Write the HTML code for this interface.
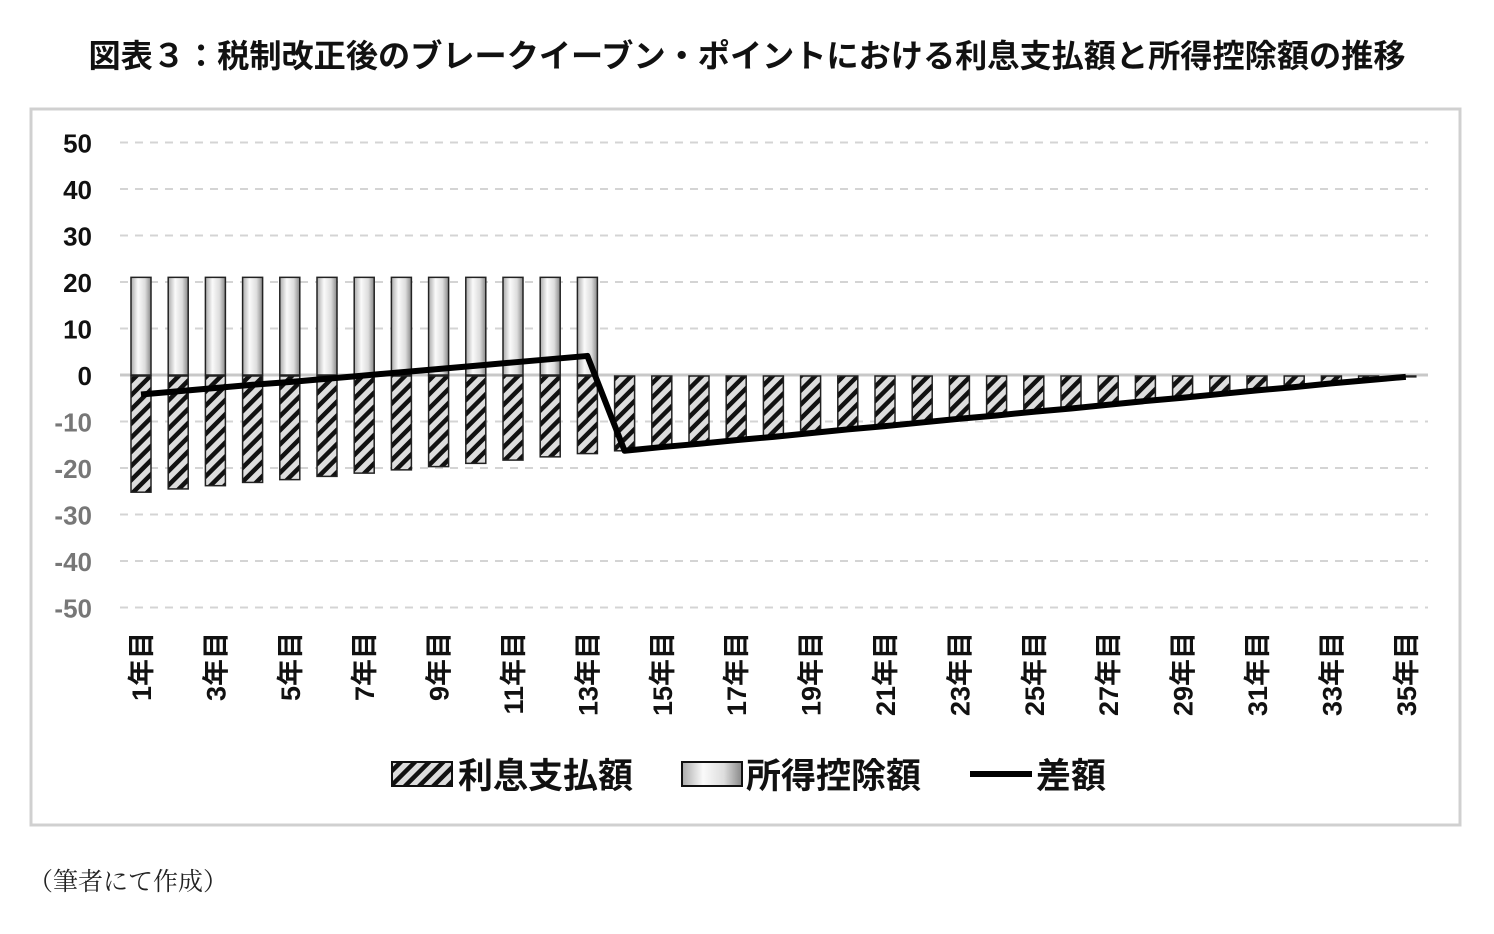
<!DOCTYPE html>
<html><head><meta charset="utf-8"><style>
body{margin:0;background:#fff;width:1494px;height:929px;overflow:hidden;font-family:"Liberation Sans","Noto Sans CJK JP",sans-serif}
</style></head><body>
<svg width="1494" height="929" xmlns="http://www.w3.org/2000/svg">
<defs>
<linearGradient id="wg" x1="0" x2="1"><stop offset="0" stop-color="#aaa"/><stop offset="0.35" stop-color="#fafafa"/><stop offset="0.7" stop-color="#ddd"/><stop offset="1" stop-color="#888"/></linearGradient>
<pattern id="hatch" width="10" height="10" patternUnits="userSpaceOnUse" patternTransform="rotate(45)"><rect width="10" height="10" fill="#ddd"/><rect width="4.5" height="10" fill="#111"/></pattern>
</defs>
<text x="747" y="67" text-anchor="middle" font-size="32" font-weight="bold" fill="#111" textLength="1317" lengthAdjust="spacingAndGlyphs">図表３：税制改正後のブレークイーブン・ポイントにおける利息支払額と所得控除額の推移</text>
<rect x="31" y="109" width="1429" height="716" fill="none" stroke="#d0d0d0" stroke-width="3"/>
<g id="grid"></g><g id="bars"></g><g id="line"></g><g id="ylab"></g><g id="xlab"></g>
<g>
<rect x="392" y="762" width="60" height="24" fill="url(#hatch)" stroke="#111" stroke-width="2"/>
<text x="458" y="788" font-size="35" font-weight="bold" fill="#111">利息支払額</text>
<rect x="682" y="762" width="60" height="24" fill="url(#wg)" stroke="#111" stroke-width="2"/>
<text x="746" y="788" font-size="35" font-weight="bold" fill="#111">所得控除額</text>
<line x1="970" y1="774" x2="1032" y2="774" stroke="#000" stroke-width="6"/>
<text x="1036" y="788" font-size="35" font-weight="bold" fill="#111">差額</text>
</g>
<text x="28" y="890" font-size="25" font-family="Liberation Serif,Noto Serif CJK SC,serif" fill="#222">（筆者にて作成）</text>
</svg>
<script>
const categories=[];for(let i=1;i<=35;i++)categories.push(i+'年目');
const interest=[-25.2,-24.5,-23.8,-23.1,-22.5,-21.8,-21.1,-20.4,-19.7,-19.0,-18.3,-17.6,-16.9,-16.3,-15.5,-14.8,-14.0,-13.3,-12.5,-11.7,-11.0,-10.2,-9.4,-8.7,-7.9,-7.2,-6.4,-5.6,-4.9,-4.1,-3.3,-2.6,-1.8,-1.1,-0.4];
const deduction=[21,21,21,21,21,21,21,21,21,21,21,21,21,0,0,0,0,0,0,0,0,0,0,0,0,0,0,0,0,0,0,0,0,0,0];
const yTicks=[50,40,30,20,10,0,-10,-20,-30,-40,-50];
const NS='http://www.w3.org/2000/svg';
const y=v=>375-v*4.65;
const x=i=>141+i*37.2;
function mk(t,a,p){const e=document.createElementNS(NS,t);for(const k in a)e.setAttribute(k,a[k]);p.appendChild(e);return e;}
const G=document.getElementById('grid'),B=document.getElementById('bars'),L=document.getElementById('line'),YL=document.getElementById('ylab'),XL=document.getElementById('xlab');
yTicks.forEach(t=>{
  const g=mk('line',{x1:120,x2:1428,y1:y(t),y2:y(t),stroke:t==0?'#c8c8c8':'#d4d4d4','stroke-width':t==0?3:2,'stroke-dasharray':t==0?'':'8 7'},G);
  
  
  const tx=mk('text',{x:92,y:y(t)+10,'text-anchor':'end','font-size':26,'font-weight':'bold',fill:t<0?'#777':'#111'},YL);
  tx.textContent=t;
  
  
});
categories.forEach((c,i)=>{
  if(deduction[i]>0){const r=mk('rect',{x:x(i)-10,y:y(deduction[i]),width:20,height:y(0)-y(deduction[i]),fill:'url(#wg)',stroke:'#222','stroke-width':1.5},B);
  
  }
  const r2=mk('rect',{x:x(i)-10,y:y(0)+1,width:20,height:y(interest[i])-y(0)-1,fill:'url(#hatch)',stroke:'#222','stroke-width':1.5},B);
  
  
  if(i%2==0){const t=mk('text',{x:0,y:0,'text-anchor':'end','font-size':27,'font-weight':'bold',fill:'#111',transform:`translate(${x(i)+10},632) rotate(-90)`},XL);
  t.textContent=c;
  
  }
});
const pts=categories.map((c,i)=>x(i)+','+y(interest[i]+deduction[i])).join(' ');
const pl=mk('polyline',{points:pts,fill:'none',stroke:'#000','stroke-width':6,'stroke-linejoin':'round'},L);


</script>
</body></html>
